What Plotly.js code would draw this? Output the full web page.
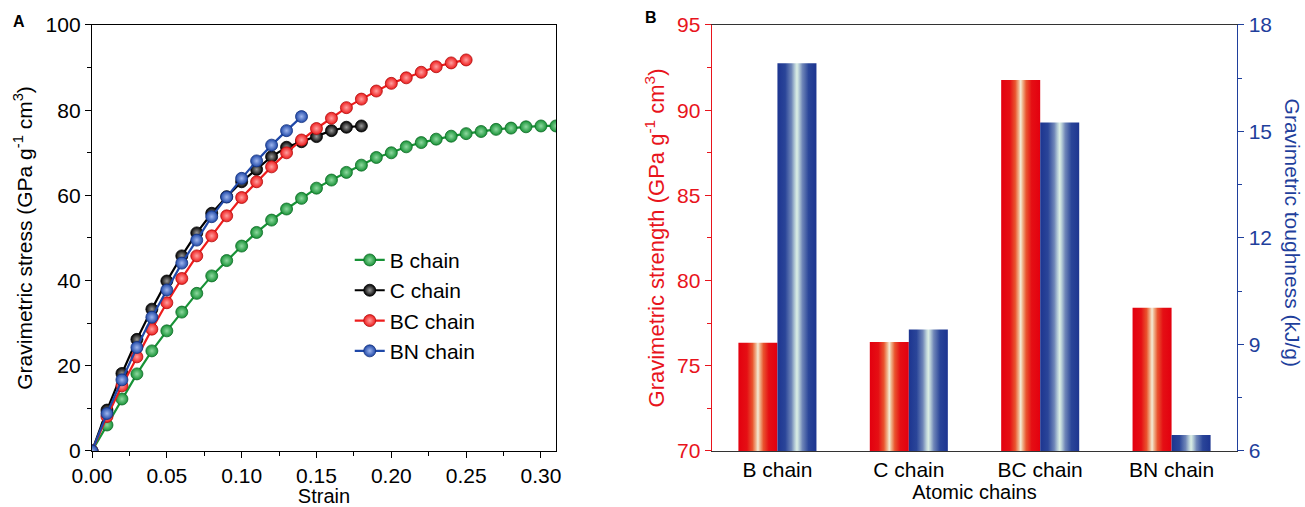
<!DOCTYPE html>
<html>
<head>
<meta charset="utf-8">
<script src="https://cdn.plot.ly/plotly-3.0.1.min.js"></script>
<style>
  html, body { margin: 0; padding: 0; background: #fff; }
  #chart { width: 1305px; height: 507px; }
</style>
</head>
<body>
<div id="chart"></div>
<script>
// Panel A: stress–strain curves of the atomic chains
const strainB  = [0,0.01,0.02,0.03,0.04,0.05,0.06,0.07,0.08,0.09,0.10,0.11,0.12,0.13,0.14,0.15,0.16,0.17,0.18,0.19,0.20,0.21,0.22,0.23,0.24,0.25,0.26,0.27,0.28,0.29,0.30,0.31];
const stressB  = [0,6.1,12.2,18.1,23.5,28.2,32.6,37.0,41.1,44.7,48.1,51.3,54.2,56.8,59.3,61.7,63.6,65.4,67.1,68.9,70.0,71.4,72.4,73.2,73.9,74.5,75.0,75.5,75.8,76.1,76.3,76.3];
const strainC  = [0,0.01,0.02,0.03,0.04,0.05,0.06,0.07,0.08,0.09,0.10,0.11,0.12,0.13,0.14,0.15,0.16,0.17,0.18];
const stressC  = [0,9.6,18.2,26.2,33.3,39.9,45.8,51.2,55.8,59.7,63.2,66.1,69.1,71.3,72.6,73.8,75.2,76.0,76.3];
const strainBC = [0,0.01,0.02,0.03,0.04,0.05,0.06,0.07,0.08,0.09,0.10,0.11,0.12,0.13,0.14,0.15,0.16,0.17,0.18,0.19,0.20,0.21,0.22,0.23,0.24,0.25];
const stressBC = [0,8.1,15.3,22.1,28.6,34.8,40.5,45.8,50.5,55.2,59.5,63.2,66.7,70.0,73.0,75.7,78.1,80.6,82.6,84.5,86.3,87.6,88.9,90.2,91.1,91.8];
const strainBN = [0,0.01,0.02,0.03,0.04,0.05,0.06,0.07,0.08,0.09,0.10,0.11,0.12,0.13,0.14];
const stressBN = [0,8.8,16.7,24.3,31.4,37.8,44.1,49.5,55.0,59.6,64.0,68.1,71.8,75.2,78.5];

// Panel B: strength and toughness per chain
const chains    = ['B chain', 'C chain', 'BC chain', 'BN chain'];
const strength  = [76.35, 76.4, 91.77, 78.4];
const toughness = [16.92, 9.42, 15.25, 6.45];

const FONT = 'Liberation Sans, Arial, sans-serif';
const RED = '#e8141c';
const BLUE = '#1f3f9c';

function curve(name, x, y, color, edge, light) {
  return {
    type: 'scatter', mode: 'lines+markers', name: name, x: x, y: y,
    xaxis: 'x', yaxis: 'y',
    line: { color: color, width: 2.2 },
    marker: { size: 12, color: color, line: { color: edge, width: 0.8 },
              gradient: { type: 'radial', color: light } }
  };
}

const traces = [
  curve('B chain',  strainB,  stressB,  '#179236', '#0d6a25', '#8fd9a0'),
  curve('C chain',  strainC,  stressC,  '#000000', '#000000', '#9a9a9a'),
  curve('BC chain', strainBC, stressBC, '#ee1c1c', '#b00c0c', '#ffa0a0'),
  curve('BN chain', strainBN, stressBN, '#1f48a8', '#12307c', '#9fb6ee'),
  {
    type: 'bar', name: 'strength', x: chains, y: strength,
    xaxis: 'x2', yaxis: 'y2', showlegend: false,
    marker: { color: RED, line: { width: 0 } }, offsetgroup: 'a'
  },
  {
    type: 'bar', name: 'toughness', x: chains, y: toughness,
    xaxis: 'x2', yaxis: 'y3', showlegend: false,
    marker: { color: BLUE, line: { width: 0 } }, offsetgroup: 'b'
  }
];

const tickFont = { family: FONT, size: 21, color: '#000' };
const titleFont = { family: FONT, size: 20, color: '#000' };

const layout = {
  width: 1305, height: 507,
  margin: { l: 0, r: 0, t: 0, b: 0 },
  paper_bgcolor: '#fff', plot_bgcolor: '#fff',
  font: { family: FONT },
  barmode: 'group', bargap: 0.406, bargroupgap: 0,
  showlegend: true,
  legend: {
    x: 0.268, y: 0.527, xanchor: 'left', yanchor: 'top',
    font: { family: FONT, size: 21, color: '#000' },
    bgcolor: 'rgba(0,0,0,0)', tracegroupgap: 0, itemwidth: 30
  },
  xaxis: {
    domain: [0.0705, 0.426], range: [0, 0.31], anchor: 'y',
    tickvals: [0, 0.05, 0.10, 0.15, 0.20, 0.25, 0.30], tickformat: '.2f',
    ticks: 'outside', ticklen: 6, tickwidth: 1, tickcolor: '#000',
    minor: { dtick: 0.025, tick0: 0, ticks: 'outside', ticklen: 4, tickcolor: '#000' },
    showline: true, linecolor: '#000', linewidth: 1.2, mirror: true,
    showgrid: false, zeroline: false, tickfont: tickFont,
    title: { text: 'Strain', font: titleFont, standoff: 4 }
  },
  yaxis: {
    domain: [0.1105, 0.9507], range: [0, 100], anchor: 'x',
    dtick: 20, ticks: 'outside', ticklen: 6, tickwidth: 1, tickcolor: '#000',
    minor: { dtick: 10, ticks: 'outside', ticklen: 4, tickcolor: '#000' },
    showline: true, linecolor: '#000', linewidth: 1.2, mirror: true,
    showgrid: false, zeroline: false, tickfont: tickFont,
    title: { text: 'Gravimetric stress (GPa g<sup>-1</sup> cm<sup>3</sup>)',
             font: { family: FONT, size: 21, color: '#000' }, standoff: 7 }
  },
  xaxis2: {
    domain: [0.5454, 0.9481], range: [-0.5, 3.5], anchor: 'y2', type: 'category',
    ticks: '', showline: true, linecolor: '#333', linewidth: 1.2, mirror: true,
    showgrid: false, zeroline: false, tickfont: tickFont,
    title: { text: 'Atomic chains', font: titleFont, standoff: 4 }
  },
  yaxis2: {
    domain: [0.1105, 0.9507], range: [70, 95], anchor: 'x2',
    dtick: 5, ticks: 'outside', ticklen: 6, tickwidth: 1, tickcolor: RED,
    minor: { dtick: 2.5, ticks: 'outside', ticklen: 4, tickcolor: RED },
    showline: true, linecolor: RED, linewidth: 1.2,
    showgrid: false, zeroline: false,
    tickfont: { family: FONT, size: 21, color: RED },
    title: { text: 'Gravimetric strength (GPa g<sup>-1</sup> cm<sup>3</sup>)',
             font: { family: FONT, size: 22, color: RED }, standoff: 6 }
  },
  yaxis3: {
    domain: [0.1105, 0.9507], range: [6, 18], anchor: 'x2', overlaying: 'y2', side: 'right',
    dtick: 3, ticks: 'outside', ticklen: 6, tickwidth: 1, tickcolor: BLUE,
    minor: { dtick: 1.5, ticks: 'outside', ticklen: 4, tickcolor: BLUE },
    showline: true, linecolor: BLUE, linewidth: 1.2,
    showgrid: false, zeroline: false,
    tickfont: { family: FONT, size: 21, color: BLUE }
  },
  annotations: [
    { text: '<b>A</b>', xref: 'paper', yref: 'paper', x: 0.0142, y: 0.958,
      xanchor: 'center', yanchor: 'middle', showarrow: false,
      font: { family: FONT, size: 16, color: '#000' } },
    { text: '<b>B</b>', xref: 'paper', yref: 'paper', x: 0.4985, y: 0.965,
      xanchor: 'center', yanchor: 'middle', showarrow: false,
      font: { family: FONT, size: 16, color: '#000' } },
    { text: 'Gravimetric toughness (kJ/g)', xref: 'paper', yref: 'paper', x: 0.9905, y: 0.542,
      xanchor: 'center', yanchor: 'middle', textangle: 90, showarrow: false,
      font: { family: FONT, size: 21, color: BLUE } }
  ]
};

// Horizontal "cylinder" shading for the bars
function addGradient(defs, id, stops) {
  const ns = 'http://www.w3.org/2000/svg';
  const g = document.createElementNS(ns, 'linearGradient');
  g.setAttribute('id', id);
  g.setAttribute('x1', '0'); g.setAttribute('y1', '0');
  g.setAttribute('x2', '1'); g.setAttribute('y2', '0');
  stops.forEach(([off, col]) => {
    const s = document.createElementNS(ns, 'stop');
    s.setAttribute('offset', off);
    s.setAttribute('stop-color', col);
    g.appendChild(s);
  });
  defs.appendChild(g);
}

Plotly.newPlot('chart', traces, layout, { displayModeBar: false, staticPlot: true }).then(gd => {
  const svg = gd.querySelector('svg.main-svg');
  let defs = svg.querySelector('defs');
  if (!defs) { defs = document.createElementNS('http://www.w3.org/2000/svg', 'defs'); svg.prepend(defs); }
  addGradient(defs, 'shadeRed', [
    [0, '#e3000f'], [0.22, '#e50f14'], [0.36, '#e9542e'], [0.45, '#efb48c'],
    [0.5, '#f4ecd8'], [0.55, '#efb48c'], [0.64, '#e9542e'], [0.78, '#e50f14'], [1, '#e3000f']
  ]);
  addGradient(defs, 'shadeBlue', [
    [0, '#1d3590'], [0.2, '#2a4599'], [0.36, '#6f86b8'], [0.45, '#b9cfd8'],
    [0.5, '#dcefe4'], [0.55, '#b9cfd8'], [0.64, '#6f86b8'], [0.8, '#2a4599'], [1, '#1d3590']
  ]);
  const barTraces = gd.querySelectorAll('.barlayer .trace');
  const ids = ['shadeRed', 'shadeBlue'];
  barTraces.forEach((t, i) => {
    t.querySelectorAll('.point path').forEach(p => { p.style.fill = 'url(#' + ids[i] + ')'; });
  });
});
</script>
</body>
</html>
